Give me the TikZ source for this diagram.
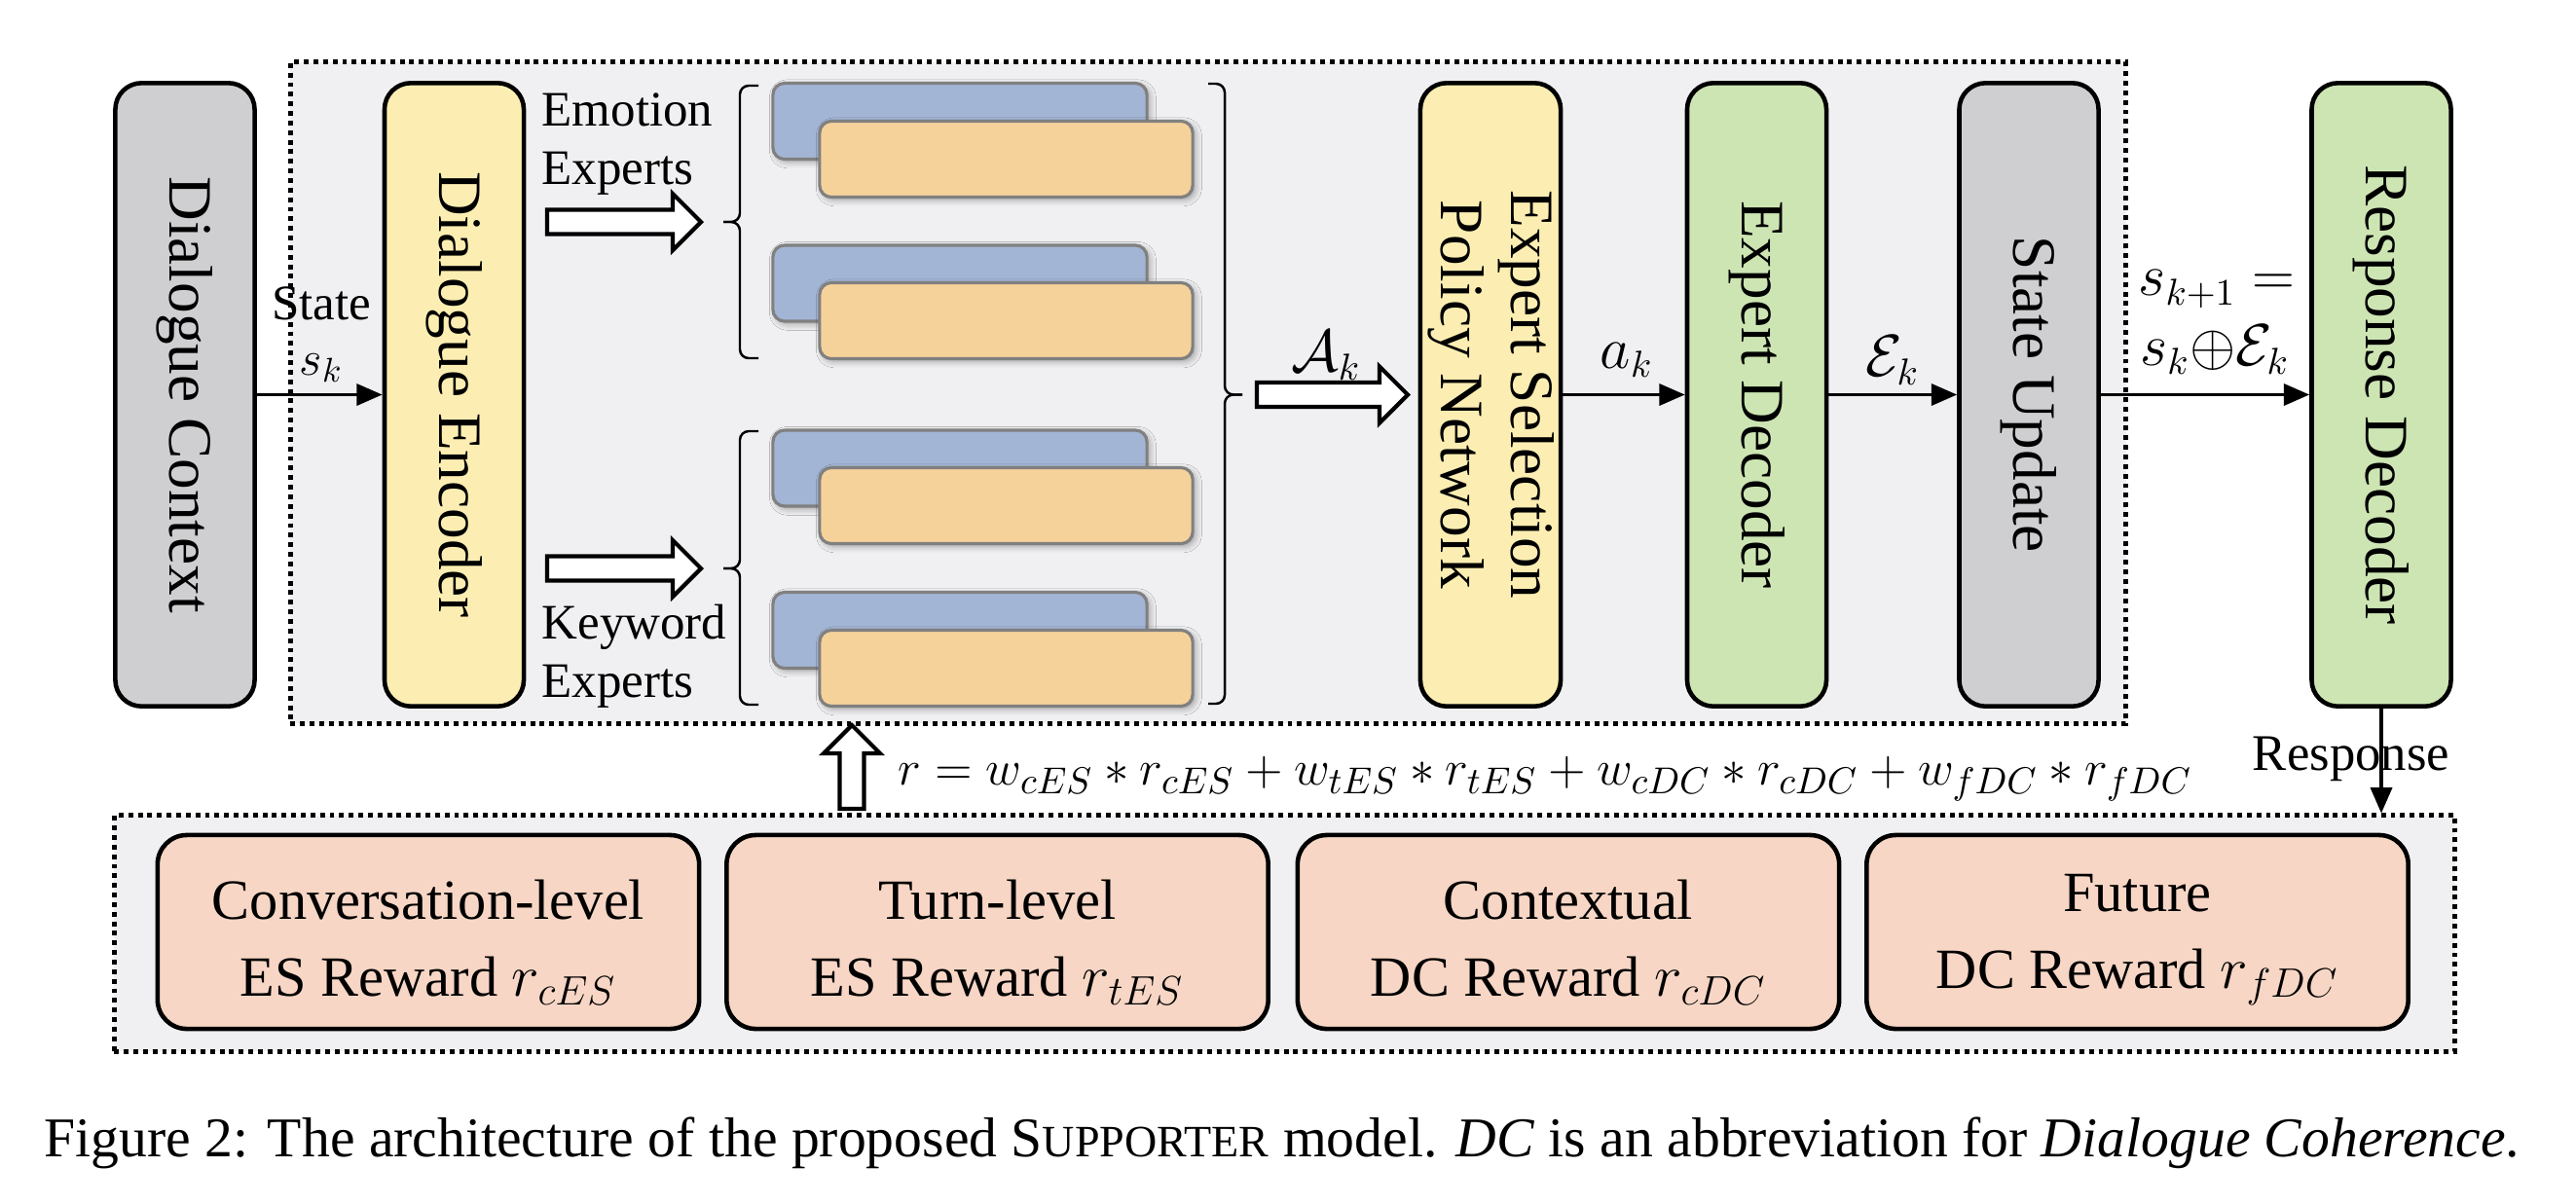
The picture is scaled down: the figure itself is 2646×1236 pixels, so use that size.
\documentclass[tikz,border=0pt]{standalone}
\usepackage{fontspec}
\setmainfont{Liberation Serif}
\usetikzlibrary{arrows.meta,calc,shadows.blur}
\definecolor{boxgray}{HTML}{CFCFD1}
\definecolor{boxyellow}{HTML}{FCEEB2}
\definecolor{boxgreen}{HTML}{CDE5B3}
\definecolor{expblue}{HTML}{A3B5D5}
\definecolor{exporange}{HTML}{F6D29B}
\definecolor{rewardpink}{HTML}{F7D6C5}
\definecolor{panelbg}{HTML}{F0F0F2}
\definecolor{expborder}{HTML}{808080}
\newcommand{\fsz}[2]{\fontsize{#1}{#2}\selectfont}
\newcommand{\harrow}[2]{%
  \draw[hollow] ($(#1)+(0,-12.5)$) -- ($(#2)+(-29,-12.5)$) -- ($(#2)+(-29,-29)$) -- (#2)
    -- ($(#2)+(-29,29)$) -- ($(#2)+(-29,12.5)$) -- ($(#1)+(0,12.5)$) -- cycle;}
\newcommand{\varrow}[2]{%
  \draw[hollow] ($(#1)+(-12.5,0)$) -- ($(#2)+(-12.5,29)$) -- ($(#2)+(-29,29)$) -- (#2)
    -- ($(#2)+(29,29)$) -- ($(#2)+(12.5,29)$) -- ($(#1)+(12.5,0)$) -- cycle;}
\begin{document}
\begin{tikzpicture}[x=0.01cm,y=-0.01cm,
  vbox/.style={draw=black, line width=1.3pt, rounded corners=0.27cm, minimum width=1.43cm,
    minimum height=6.40cm, inner sep=0pt, font=\fsz{18}{20.5}},
  panel/.style={draw=black, fill=panelbg, line width=1.4pt, dash pattern=on 1.4pt off 1.4pt, inner sep=0pt},
  expshade/.style={blur shadow={shadow xshift=0.8pt, shadow yshift=-0.8pt, shadow blur steps=6, shadow opacity=35}},
  expb/.style={draw=expborder, line width=0.9pt, rounded corners=0.12cm, fill=expblue,
    minimum width=3.84cm, minimum height=0.78cm, inner sep=0pt, expshade},
  expo/.style={draw=expborder, line width=0.9pt, rounded corners=0.12cm, fill=exporange,
    minimum width=3.83cm, minimum height=0.78cm, inner sep=0pt, expshade},
  reward/.style={draw=black, line width=1.3pt, rounded corners=0.3cm, fill=rewardpink,
    minimum width=5.56cm, minimum height=1.99cm, inner sep=0pt},
  rtext/.style={align=center, inner sep=0pt, font=\fsz{16.6}{22.5}},
  conn/.style={line width=0.9pt, -{Triangle[length=7.5pt,width=6.3pt]}},
  hollow/.style={draw=black, fill=white, line width=1.2pt, line join=miter},
  bracket/.style={line width=0.7pt, rounded corners=0.09cm},
  lbl/.style={font=\fsz{14.5}{17}, inner sep=0pt},
  mlbl/.style={font=\fsz{16}{19}, inner sep=0pt}
]
\useasboundingbox[fill=white] (0,0) rectangle (2646,1236);

% panels
\node[panel, minimum width=18.84cm, minimum height=6.79cm] (top) at (1241,403.5) {};
\node[panel, minimum width=24.03cm, minimum height=2.42cm] (bot) at (1319.5,959) {};

% main boxes
\node[vbox, fill=boxgray] (ctx) at (190,405.5) {\rotatebox{-90}{Dialogue Context}};
\node[vbox, fill=boxyellow] (enc) at (466.5,405.5) {\rotatebox{-90}{Dialogue Encoder}};
\node[vbox, fill=boxyellow, minimum width=1.40cm] (esp) at (1531,405.5)
  {\rotatebox{-90}{\begin{tabular}{@{}c@{}}Expert Selection\\Policy Network\end{tabular}}};
\node[vbox, fill=boxgreen] (edec) at (1804.5,405.5) {\rotatebox{-90}{Expert Decoder}};
\node[vbox, fill=boxgray] (su) at (2084,405.5) {\rotatebox{-90}{State Update}};
\node[vbox, fill=boxgreen] (rd) at (2446,405.5) {\rotatebox{-90}{Response Decoder}};

% expert blocks
\node[expb] (b1) at (986,124.5) {};
\node[expo] (o1) at (1033.5,163.5) {};
\node[expb] (b2) at (986,291) {};
\node[expo] (o2) at (1033.5,329.5) {};
\node[expb] (b3) at (986,481) {};
\node[expo] (o3) at (1033.5,519.5) {};
\node[expb] (b4) at (986,647.5) {};
\node[expo] (o4) at (1033.5,686.5) {};

% brackets
\draw[bracket] (779,88) -- (760,88) -- (760,228) -- (743,228);
\draw[bracket] (743,228) -- (760,228) -- (760,368) -- (779,368);
\draw[bracket] (779,443) -- (760,443) -- (760,584) -- (743,584);
\draw[bracket] (743,584) -- (760,584) -- (760,724) -- (779,724);
\draw[bracket] (1241,86) -- (1258,86) -- (1258,405.5) -- (1276,405.5);
\draw[bracket] (1276,405.5) -- (1258,405.5) -- (1258,723) -- (1241,723);

% hollow arrows
\coordinate (h1s) at (562,228); \coordinate (h1e) at (720,228);
\coordinate (h2s) at (562,584); \coordinate (h2e) at (720,584);
\coordinate (h3s) at (1291,405.5); \coordinate (h3e) at (1446,405.5);
\coordinate (h4s) at (875,831); \coordinate (h4e) at (875,745);
\harrow{h1s}{h1e}
\harrow{h2s}{h2e}
\harrow{h3s}{h3e}
\varrow{h4s}{h4e}

% connectors
\draw[conn] (ctx.east) -- (enc.west);
\draw[conn] (esp.east) -- (edec.west);
\draw[conn] (edec.east) -- (su.west);
\draw[conn] (su.east) -- (rd.west);
\draw[conn] (rd.south) -- (rd.south |- bot.north);

% labels
\node[lbl] (state) at (330,312) {State};
\node[lbl] (sk) at (330,378) {$s_k$};
\node[lbl, anchor=west, align=left] (emo) at (556,148) {Emotion\\Experts};
\node[lbl, anchor=west, align=left] (kw) at (556,674) {Keyword\\Experts};
\node[mlbl] (Ak) at (1362,365) {$\mathcal{A}_k$};
\node[mlbl] (ak) at (1671,370) {$a_k$};
\node[mlbl] (Ek) at (1944,370) {$\mathcal{E}_k$};
\node[mlbl] (sk1) at (2277,297) {$s_{k+1} =$};
\node[mlbl] (skE) at (2275,359) {$s_k{\oplus}\mathcal{E}_k$};
\node[lbl, font=\fsz{15}{18}] (resp) at (2415,780) {Response};
\node[mlbl, font=\fsz{15.1}{18}] (formula) at (1587,800)
  {$r = w_{cES} * r_{cES} + w_{tES} * r_{tES} + w_{cDC} * r_{cDC} + w_{fDC} * r_{fDC}$};

% reward boxes
\node[reward] (r1) at (440,957.5) {};
\node[reward] (r2) at (1024.5,957.5) {};
\node[reward] (r3) at (1611,957.5) {};
\node[reward] (r4) at (2195.5,957.5) {};
\node[rtext] (r1t) at ($(r1.center)+(0,11)$) {Conversation-level\\ES Reward $r_{cES}$};
\node[rtext] (r2t) at ($(r2.center)+(0,11)$) {Turn-level\\ES Reward $r_{tES}$};
\node[rtext] (r3t) at ($(r3.center)+(0,11)$) {Contextual\\DC Reward $r_{cDC}$};
\node[rtext] (r4t) at ($(r4.center)+(0,8)$) {Future\\DC Reward $r_{fDC}$};

% caption
\node[anchor=base, inner sep=0pt, font=\fsz{16.4}{19}] (cap) at (1317,1188)
  {Figure 2: The architecture of the proposed S{\fsz{13.1}{15}UPPORTER} model. \textit{DC} is an abbreviation for \textit{Dialogue Coherence}.};
\end{tikzpicture}
\end{document}
